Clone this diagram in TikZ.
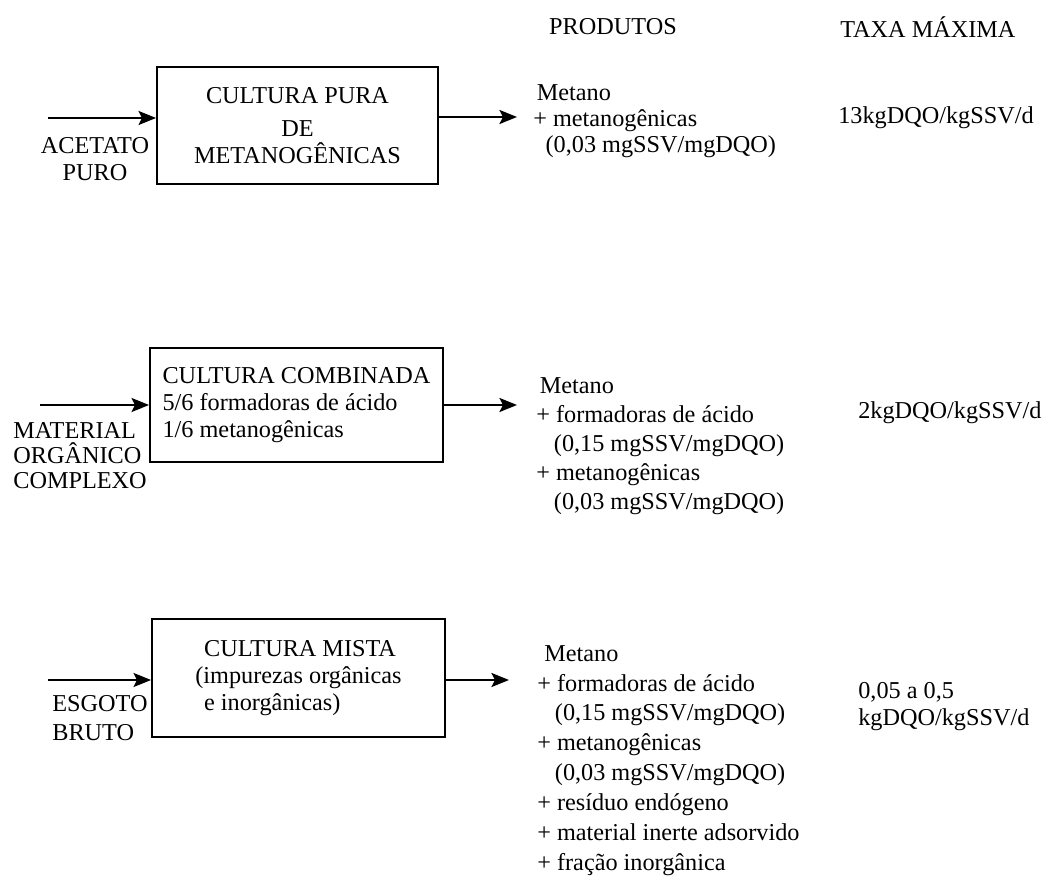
\documentclass[tikz,border=0pt]{standalone}
\usepackage{fontspec}
\setmainfont{Liberation Serif}
\usepackage{tikz}
\usetikzlibrary{positioning,arrows.meta}

\newcommand{\txt}[1]{\fontsize{13.8}{#1}\selectfont}

\begin{document}
\begin{tikzpicture}[x=0.02cm, y=-0.02cm,
    cultura/.style={draw, line width=1.1pt, minimum width=5.86cm, minimum height=2.3cm, inner sep=0pt, font=\txt{15.5}},
    flow/.style={line width=1.1pt, -{Stealth[length=10pt, width=8pt, inset=2pt]}},
    lbl/.style={inner sep=0pt, align=left, anchor=north west},
    prod/.style={inner sep=0pt, align=left, anchor=north west}]

    \useasboundingbox (0,0) rectangle (1048,881);

    \node[inner sep=0pt, font=\txt{15.5}] (produtos) at (613,27) {PRODUTOS};
    \node[inner sep=0pt, font=\txt{15.5}, anchor=west] (taxa) at (840,27) {TAXA MÁXIMA};

    \node[cultura, minimum width=5.62cm, minimum height=2.34cm, align=center] (pura) at (297.5,125.5)
        {CULTURA PURA\\[3pt] DE\\ METANOGÊNICAS};
    \coordinate (in1) at (48,118);
    \coordinate (out1) at (517,117);
    \draw[flow] (in1) -- (in1 -| pura.west);
    \draw[flow] (out1 -| pura.east) -- (out1);
    \node[inner sep=0pt, align=center, anchor=north, font=\txt{15.5}] (acetato) at (95,137) {ACETATO\\PURO};
    \node[prod, font=\txt{15}] (prod1) at (533,84)
        {\hspace*{2pt}Metano\\+ metanogênicas\\\hspace*{7pt}(0,03 mgSSV/mgDQO)};
    \node[inner sep=0pt, anchor=west, font=\txt{15.5}] (taxa1) at (838,118) {13kgDQO/kgSSV/d};

    \node[cultura, minimum height=2.28cm, align=left] (combinada) at (296.5,405)
        {CULTURA COMBINADA\\5/6 formadoras de ácido\\1/6 metanogênicas};
    \coordinate (in2) at (40,405);
    \coordinate (out2) at (517,405);
    \draw[flow] (in2) -- (in2 -| combinada.west);
    \draw[flow] (out2 -| combinada.east) -- (out2);
    \node[lbl, font=\txt{14.2}] (material) at (13,422) {MATERIAL\\ORGÂNICO\\COMPLEXO};
    \node[prod, font=\txt{16.6}] (prod2) at (536,377)
        {\hspace*{2pt}Metano\\+ formadoras de ácido\\\hspace*{10pt}(0,15 mgSSV/mgDQO)\\+ metanogênicas\\\hspace*{10pt}(0,03 mgSSV/mgDQO)};
    \node[inner sep=0pt, anchor=west, font=\txt{15.5}] (taxa2) at (858,413) {2kgDQO/kgSSV/d};

    \node[cultura, minimum height=2.36cm, align=left] (mista) at (298.5,678)
        {\hspace*{5pt}CULTURA MISTA\\(impurezas orgânicas\\\hspace*{5pt}e inorgânicas)};
    \coordinate (in3) at (48,680);
    \coordinate (out3) at (509,680);
    \draw[flow] (in3) -- (in3 -| mista.west);
    \draw[flow] (out3 -| mista.east) -- (out3);
    \node[lbl, font=\txt{16.4}] (esgoto) at (52,695) {ESGOTO\\BRUTO};
    \node[prod, font=\txt{17}] (prod3) at (537,645)
        {\hspace*{4pt}Metano\\+ formadoras de ácido\\\hspace*{10pt}(0,15 mgSSV/mgDQO)\\+ metanogênicas\\\hspace*{10pt}(0,03 mgSSV/mgDQO)\\+ resíduo endógeno\\+ material inerte adsorvido\\+ fração inorgânica};
    \node[lbl, font=\txt{15.5}] (taxa3) at (858,682) {0,05 a 0,5\\kgDQO/kgSSV/d};
\end{tikzpicture}
\end{document}
